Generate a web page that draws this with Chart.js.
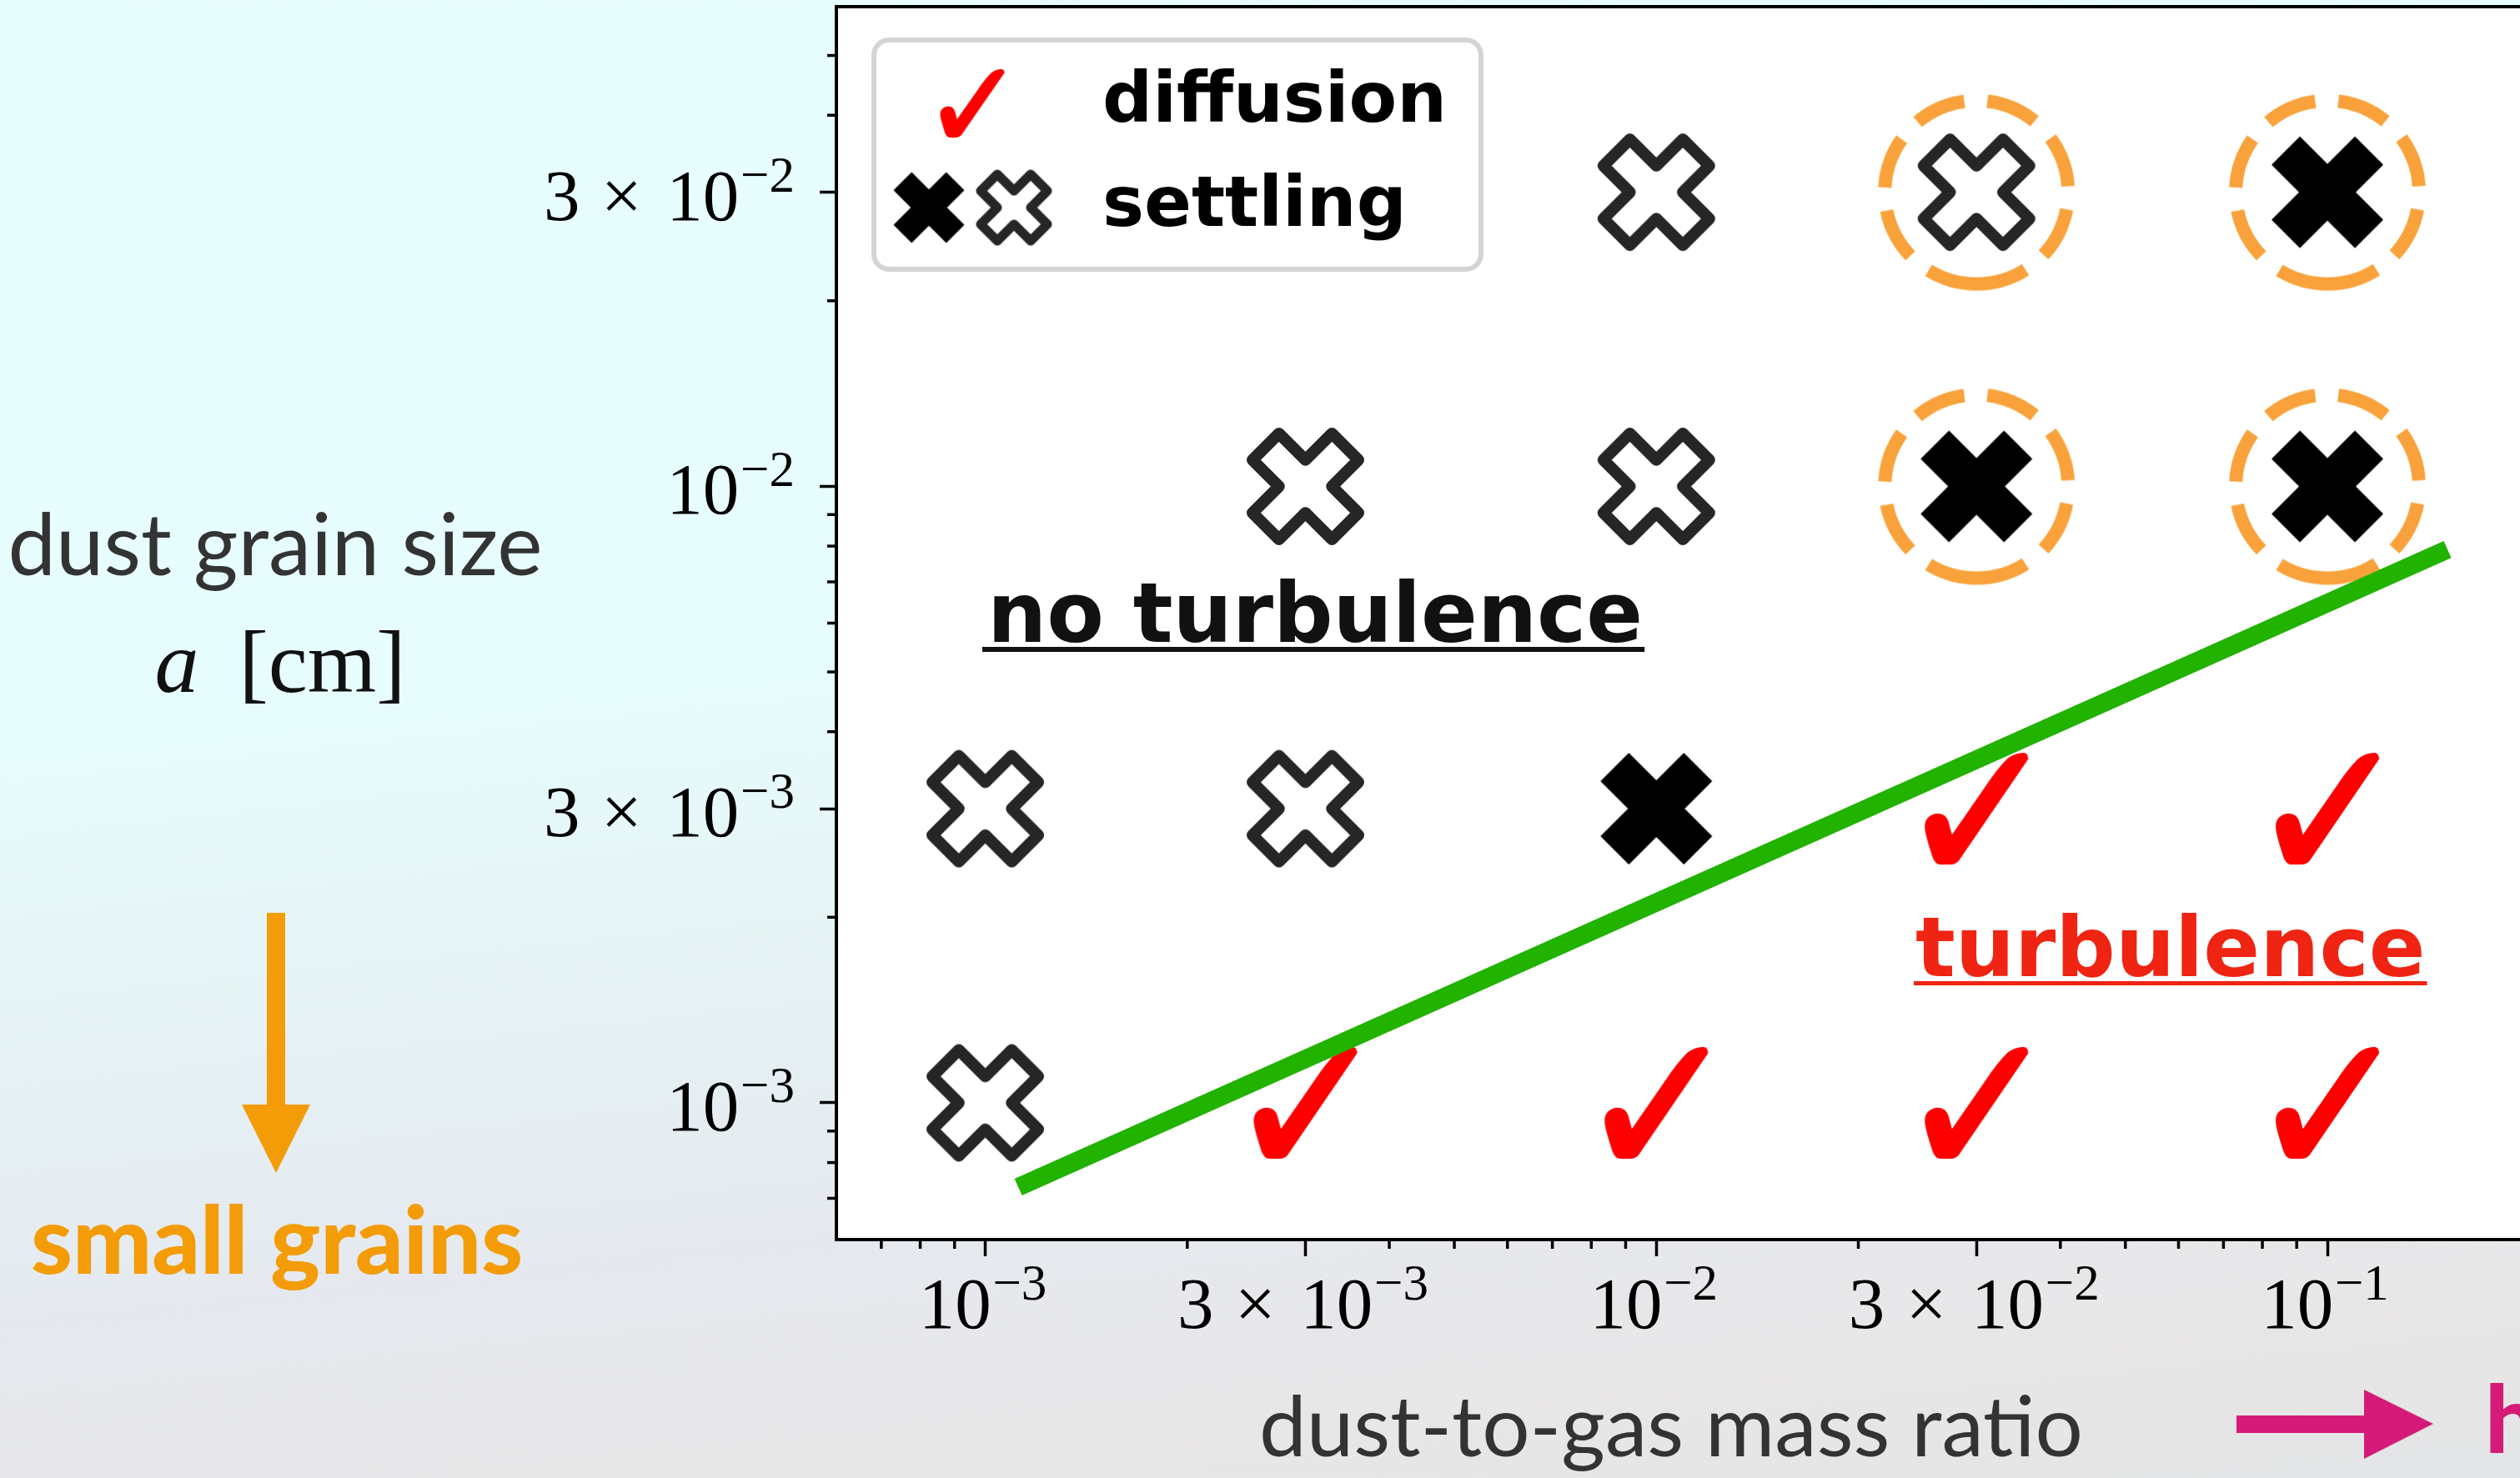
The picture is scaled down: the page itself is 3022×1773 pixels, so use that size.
<!DOCTYPE html>
<html>
<head>
<meta charset="utf-8">
<title>Dust settling vs turbulent diffusion</title>
<script src="https://cdn.jsdelivr.net/npm/chart.js@4.4.1/dist/chart.umd.min.js"></script>
<style>
  html, body { margin: 0; padding: 0; overflow: hidden; }
  body {
    width: 3022px; height: 1773px;
    background: linear-gradient(174deg, #e8fefe 0%, #e7fdfd 42%, #e5f2f4 60%, #e5e9ef 76%, #e8e6e7 90%, #e3e5e6 100%);
  }
  #wrap { position: absolute; left: 0; top: 0; width: 3200px; height: 1773px; }
</style>
</head>
<body>
<div id="wrap"><canvas id="chart" width="3200" height="1773"></canvas></div>
<script>
// axes: dust-to-gas mass ratio (x) and grain size a [cm] (y), both log
const ratioTicks = [1e-3, 3e-3, 1e-2, 3e-2, 1e-1];
const ratioTickLabels = ['10^−3', '3×10^−3', '10^−2', '3×10^−2', '10^−1'];
const ratioMinorTicks = [7e-4, 8e-4, 9e-4, 2e-3, 4e-3, 5e-3, 6e-3, 7e-3, 8e-3, 9e-3, 2e-2, 4e-2, 5e-2, 6e-2, 7e-2, 8e-2, 9e-2];
const sizeTicks = [1e-3, 3e-3, 1e-2, 3e-2];
const sizeTickLabels = ['10^−3', '3×10^−3', '10^−2', '3×10^−2'];
const sizeMinorTicks = [7e-4, 8e-4, 9e-4, 2e-3, 4e-3, 5e-3, 6e-3, 7e-3, 8e-3, 9e-3, 2e-2, 4e-2, 5e-2];

// runs that stay turbulent (diffusion)
const diffusionRatio = [3e-3, 1e-2, 3e-2, 1e-1, 3e-2, 1e-1];
const diffusionSize  = [1e-3, 1e-3, 1e-3, 1e-3, 3e-3, 3e-3];
// runs where the dust settles
const settlingOpenRatio = [1e-3, 1e-3, 3e-3, 3e-3, 1e-2, 1e-2, 3e-2];
const settlingOpenSize  = [1e-3, 3e-3, 3e-3, 1e-2, 1e-2, 3e-2, 3e-2];
const settlingFilledRatio = [1e-2, 3e-2, 1e-1, 1e-1];
const settlingFilledSize  = [3e-3, 1e-2, 1e-2, 3e-2];
// runs marked with the dashed orange ring
const circledRatio = [3e-2, 1e-1, 3e-2, 1e-1];
const circledSize  = [1e-2, 1e-2, 3e-2, 3e-2];
// regime boundary
const boundaryRatio = [1.12e-3, 0.151];
const boundarySize  = [7.3e-4, 7.9e-3];

const toPoints = (xs, ys) => xs.map((x, i) => ({ x: x, y: ys[i] }));

// --- marker images ---
function makeCanvas(w, h) {
    const c = document.createElement('canvas');
    c.width = Math.ceil(w); c.height = Math.ceil(h);
    return c;
}

function xPath(g, cx, cy, s) {
    const v = [[-1, -2], [0, -1], [1, -2], [2, -1], [1, 0], [2, 1], [1, 2], [0, 1], [-1, 2], [-2, 1], [-1, 0], [-2, -1]];
    g.beginPath();
    v.forEach(([a, b], i) => {
        const px = cx + a * s / 4, py = cy + b * s / 4;
        if (i) g.lineTo(px, py); else g.moveTo(px, py);
    });
    g.closePath();
}

function openCross(size, lw) {
    const c = makeCanvas(size + lw + 4, size + lw + 4), g = c.getContext('2d');
    xPath(g, c.width / 2, c.height / 2, size);
    g.fillStyle = '#fff'; g.fill();
    g.lineJoin = 'round'; g.lineWidth = lw; g.strokeStyle = '#262626'; g.stroke();
    return c;
}

function filledCross(size) {
    const c = makeCanvas(size + 4, size + 4), g = c.getContext('2d');
    xPath(g, c.width / 2, c.height / 2, size);
    g.fillStyle = '#000'; g.fill();
    g.lineJoin = 'round'; g.lineWidth = 1.5; g.strokeStyle = '#000'; g.stroke();
    return c;
}

function checkMark(w, h) {
    const c = makeCanvas(w + 4, h + 4), g = c.getContext('2d');
    const P = (u, v) => [2 + u * w, 2 + v * h];
    g.beginPath();
    g.moveTo(...P(0.263, 0.733));
    g.lineTo(...P(0.589, 0.297));
    g.quadraticCurveTo(...P(0.70, 0.14), ...P(0.80, 0.05));
    g.quadraticCurveTo(...P(0.88, -0.005), ...P(0.96, 0.0));
    g.quadraticCurveTo(...P(1.0, 0.005), ...P(1.0, 0.056));
    g.lineTo(...P(0.33, 0.964));
    g.quadraticCurveTo(...P(0.30, 1.0), ...P(0.25, 1.0));
    g.lineTo(...P(0.15, 1.0));
    g.quadraticCurveTo(...P(0.09, 1.0), ...P(0.06, 0.89));
    g.quadraticCurveTo(...P(0.0, 0.72), ...P(0.0, 0.66));
    g.quadraticCurveTo(...P(0.0, 0.57), ...P(0.10, 0.545));
    g.quadraticCurveTo(...P(0.20, 0.53), ...P(0.23, 0.62));
    g.closePath();
    g.fillStyle = '#ff0000'; g.fill();
    return c;
}

function ring(r, lw) {
    const s = 2 * r + lw + 4, c = makeCanvas(s, s), g = c.getContext('2d');
    g.strokeStyle = '#f9a23b'; g.lineWidth = lw; g.setLineDash([62, 28]);
    g.beginPath();
    g.arc(s / 2, s / 2, r, Math.PI / 2, Math.PI / 2 - 2 * Math.PI, true);
    g.stroke();
    return c;
}

const imgOpen = openCross(127, 14);
const imgFilled = filledCross(132);
const imgCheck = checkMark(124, 134);
const imgRing = ring(110, 16);
const legOpen = openCross(80, 11);
const legFilled = filledCross(83);
const legCheck = checkMark(77, 82);

// --- text helpers ---
function fitFont(ctx, text, style, family, target) {
    ctx.font = style + ' 100px ' + family;
    const size = 100 * target / ctx.measureText(text).width;
    return style + ' ' + size.toFixed(1) + 'px ' + family;
}

// "3×10^−2" style label, math look
function drawPow(ctx, label, x, baseline, align) {
    const fs = 87, sfs = 61;
    const main = fs + 'px "Liberation Serif"', sup = sfs + 'px "Liberation Serif"';
    const parts = label.split('^');
    const base = parts[0], exp = parts[1];
    const hasMant = base.indexOf('×') >= 0;
    const mant = hasMant ? base.split('×')[0] : '';
    ctx.font = main;
    const wm = hasMant ? ctx.measureText(mant).width : 0;
    const wt = hasMant ? ctx.measureText('×').width : 0;
    const w10 = ctx.measureText('10').width;
    const gA = hasMant ? 0.29 * fs : 0, gB = hasMant ? 0.34 * fs : 0, gC = 0.02 * fs;
    ctx.font = sup;
    const we = ctx.measureText(exp).width;
    const total = wm + gA + wt + gB + w10 + gC + we;
    let x0 = align === 'center' ? x - total / 2 : x - total;
    ctx.textAlign = 'left';
    ctx.font = main;
    if (hasMant) {
        ctx.fillText(mant, x0, baseline);
        ctx.fillText('×', x0 + wm + gA, baseline);
        x0 += wm + gA + wt + gB;
    }
    ctx.fillText('10', x0, baseline);
    ctx.font = sup;
    ctx.fillText(exp, x0 + w10 + gC, baseline - 0.39 * fs);
}

function roundBox(ctx, x, y, w, h, r) {
    ctx.beginPath();
    ctx.moveTo(x + r, y);
    ctx.arcTo(x + w, y, x + w, y + h, r);
    ctx.arcTo(x + w, y + h, x, y + h, r);
    ctx.arcTo(x, y + h, x, y, r);
    ctx.arcTo(x, y, x + w, y, r);
    ctx.closePath();
}

const decor = {
    id: 'decor',
    beforeDraw(chart) {
        const { ctx, chartArea: a } = chart;
        ctx.save();
        ctx.fillStyle = '#fff';
        ctx.fillRect(a.left, a.top, chart.width - a.left, a.bottom - a.top);
        ctx.restore();
    },
    afterDraw(chart) {
        const { ctx, chartArea: a } = chart;
        const xs = chart.scales.x, ys = chart.scales.y;
        ctx.save();

        // top spine
        ctx.strokeStyle = '#000'; ctx.lineWidth = 4;
        ctx.beginPath(); ctx.moveTo(a.left - 2, a.top); ctx.lineTo(chart.width, a.top); ctx.stroke();

        // minor ticks
        ctx.lineWidth = 3.5;
        ratioMinorTicks.forEach(v => {
            const px = xs.getPixelForValue(v);
            ctx.beginPath(); ctx.moveTo(px, a.bottom); ctx.lineTo(px, a.bottom + 11); ctx.stroke();
        });
        sizeMinorTicks.forEach(v => {
            const py = ys.getPixelForValue(v);
            ctx.beginPath(); ctx.moveTo(a.left, py); ctx.lineTo(a.left - 11, py); ctx.stroke();
        });

        // tick labels
        ctx.fillStyle = '#000';
        ctx.textBaseline = 'alphabetic';
        ratioTicks.forEach((v, i) => drawPow(ctx, ratioTickLabels[i], xs.getPixelForValue(v) - 3, a.bottom + 106, 'center'));
        sizeTicks.forEach((v, i) => drawPow(ctx, sizeTickLabels[i], a.left - 50, ys.getPixelForValue(v) + 33, 'right'));

        // legend
        ctx.fillStyle = '#fff'; ctx.strokeStyle = '#d4d4d4'; ctx.lineWidth = 6;
        roundBox(ctx, 1048, 48, 728, 275, 18);
        ctx.fill(); ctx.stroke();
        ctx.drawImage(legCheck, 1166 - legCheck.width / 2, 124 - legCheck.height / 2);
        ctx.drawImage(legFilled, 1114 - legFilled.width / 2, 249 - legFilled.height / 2);
        ctx.drawImage(legOpen, 1216 - legOpen.width / 2, 249 - legOpen.height / 2);
        ctx.fillStyle = '#000';
        ctx.font = 'bold 84px "DejaVu Sans"';
        ctx.textAlign = 'left';
        ctx.fillText('diffusion', 1322, 146);
        ctx.fillText('settling', 1322, 271);

        // regime labels
        ctx.font = 'bold 100px "DejaVu Sans"';
        ctx.fillStyle = '#111';
        ctx.fillText('no turbulence', 1184, 770);
        ctx.fillRect(1178, 776, ctx.measureText('no turbulence').width + 8, 6);
        ctx.fillStyle = '#ef2412';
        ctx.fillText('turbulence', 2297, 1171);
        ctx.fillRect(2295, 1177, ctx.measureText('turbulence').width + 4, 5);

        // y title
        ctx.fillStyle = '#333';
        ctx.textAlign = 'center';
        ctx.font = fitFont(ctx, 'dust grain size', 'normal', 'Lato', 641);
        ctx.fillText('dust grain size', 330, 690);
        ctx.fillStyle = '#111';
        ctx.textAlign = 'left';
        ctx.font = 'italic 106px "Liberation Serif"';
        const wa = ctx.measureText('a').width;
        ctx.font = '106px "Liberation Serif"';
        const wc = ctx.measureText('[cm]').width;
        const ax = 336 - (wa + 48 + wc) / 2;
        ctx.font = 'italic 106px "Liberation Serif"';
        ctx.fillText('a', ax, 830);
        ctx.font = '106px "Liberation Serif"';
        ctx.fillText('[cm]', ax + wa + 48, 830);

        // small grains + arrow
        ctx.fillStyle = '#f39c07';
        ctx.fillRect(320, 1095, 22, 231);
        ctx.beginPath(); ctx.moveTo(290, 1325); ctx.lineTo(372, 1325); ctx.lineTo(331, 1407); ctx.closePath(); ctx.fill();
        const boldFont = fitFont(ctx, 'small grains', '900', 'Lato', 590);
        ctx.font = boldFont;
        ctx.fillText('small grains', 37, 1528);

        // x title
        ctx.fillStyle = '#333';
        ctx.textAlign = 'center';
        ctx.font = fitFont(ctx, 'dust-to-gas mass ratio', 'normal', 'Lato', 988);
        ctx.fillText('dust-to-gas mass ratio', 2004, 1747);

        // high ratio arrow
        ctx.fillStyle = '#d51b77';
        ctx.fillRect(2682, 1698, 154, 21);
        ctx.beginPath(); ctx.moveTo(2835, 1667); ctx.lineTo(2918, 1708); ctx.lineTo(2835, 1750); ctx.closePath(); ctx.fill();
        ctx.textAlign = 'left';
        ctx.font = boldFont;
        ctx.fillText('h', 2980, 1743);

        ctx.restore();
    }
};

new Chart(document.getElementById('chart').getContext('2d'), {
    type: 'scatter',
    data: {
        datasets: [
            {
                label: 'boundary',
                data: toPoints(boundaryRatio, boundarySize),
                showLine: true,
                borderColor: '#22b200',
                borderWidth: 22,
                borderCapStyle: 'butt',
                pointRadius: 0,
            },
            {
                label: 'diffusion',
                data: toPoints(diffusionRatio, diffusionSize),
                pointStyle: imgCheck,
                pointRadius: 5,
            },
            {
                label: 'settling',
                data: toPoints(settlingFilledRatio, settlingFilledSize),
                pointStyle: imgFilled,
                pointRadius: 5,
            },
            {
                label: 'settling (open)',
                data: toPoints(settlingOpenRatio, settlingOpenSize),
                pointStyle: imgOpen,
                pointRadius: 5,
            },
            {
                label: 'circled',
                data: toPoints(circledRatio, circledSize),
                pointStyle: imgRing,
                pointRadius: 5,
            },
        ],
    },
    options: {
        responsive: false,
        animation: false,
        events: [],
        layout: { padding: { top: 8, right: 25, left: 0, bottom: 0 } },
        plugins: { legend: { display: false }, tooltip: { enabled: false } },
        scales: {
            x: {
                type: 'logarithmic',
                position: 'bottom',
                min: 6e-4,
                max: 0.3,
                afterBuildTicks: s => { s.ticks = ratioTicks.map(v => ({ value: v })); },
                afterFit: s => { s.height = 286; },
                ticks: { display: false },
                grid: { drawOnChartArea: false, drawTicks: true, tickLength: 20, tickWidth: 3.5, tickColor: '#000' },
                border: { display: true, color: '#000', width: 4 },
            },
            y: {
                type: 'logarithmic',
                position: 'left',
                min: 6e-4,
                max: 6e-2,
                afterBuildTicks: s => { s.ticks = sizeTicks.map(v => ({ value: v })); },
                afterFit: s => { s.width = 1003; },
                ticks: { display: false },
                grid: { drawOnChartArea: false, drawTicks: true, tickLength: 20, tickWidth: 3.5, tickColor: '#000' },
                border: { display: true, color: '#000', width: 4 },
            },
        },
    },
    plugins: [decor],
});
</script>
</body>
</html>
